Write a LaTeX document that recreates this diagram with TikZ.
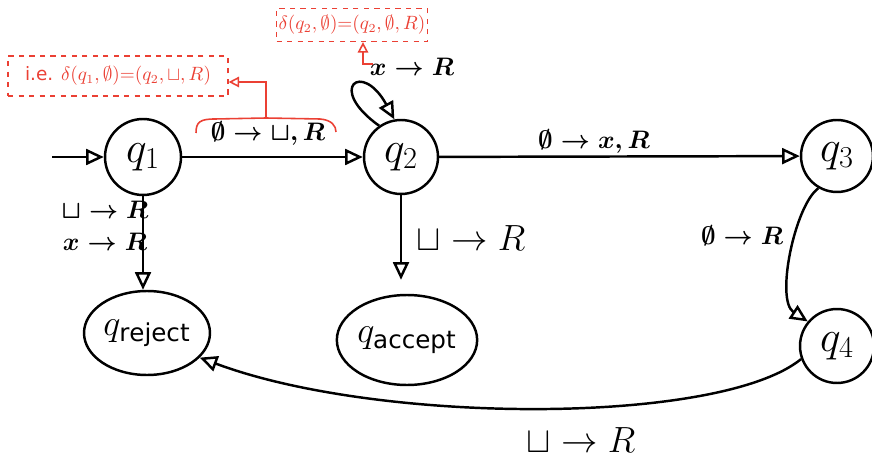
\documentclass[tikz,border=0pt]{standalone}
\usepackage{fontspec}
\setmainfont{DejaVu Sans}
\usetikzlibrary{arrows.meta,shapes.geometric}
\definecolor{annred}{RGB}{235,64,52}
\begin{document}
\begin{tikzpicture}[x=0.02cm,y=-0.02cm,
  state/.style={circle,draw,line width=1.4pt,inner sep=0pt,font=\fontsize{26}{26}\selectfont},
  bigstate/.style={ellipse,draw,line width=1.4pt,inner sep=0pt,font=\fontsize{20}{20}\selectfont},
  edge/.style={line width=1.4pt,-{Triangle[open,length=10pt,width=9pt,line width=1.4pt]}},
  lbl/.style={font=\fontsize{15}{15}\selectfont\boldmath,inner sep=0pt},
  biglbl/.style={font=\fontsize{22}{22}\selectfont,inner sep=0pt},
  redbox/.style={draw=annred,dashed,line width=0.7pt,text=annred,inner sep=0pt,font=\fontsize{10.5}{12}\selectfont},
  redline/.style={draw=annred,line width=0.9pt},
  redarrow/.style={redline,-{Triangle[open,length=6pt,width=6pt]}}]
\useasboundingbox (0,0) rectangle (872,459);

% states
\node[state,minimum size=1.52cm] (q1) at (143,157) {$q_1$};
\node[state,minimum size=1.48cm] (q2) at (401,157) {$q_2$};
\node[state,minimum size=1.44cm] (q3) at (837,156) {$q_3$};
\node[state,minimum size=1.48cm] (q4) at (837,346) {$q_4$};
\node[bigstate,minimum width=2.52cm,minimum height=1.68cm] (qrej) at (147,333) {$q_{\mathrm{reject}}$};
\node[bigstate,minimum width=2.32cm,minimum height=1.8cm] (qacc) at (407,340) {$q_{\mathrm{accept}}$};

% transitions
\coordinate (init) at (52,157);
\draw[edge] (init) -- (q1);
\draw[edge] (q1) -- (q2);
\draw[edge] (q2.125) .. controls (326,88) and (362,60) .. (q2.100);
\draw[edge] (q2) -- (q3);
\draw[edge,shorten >=0.28cm] (q2.south) -- (q2.south |- qacc.north);
\draw[edge] (q1.south) -- (q1.south |- qrej.north);
\draw[edge] (q3.240) .. controls (795,205) and (775,300) .. (q4.140);
\draw[edge] (q4.200) .. controls (720,425) and (380,425) .. (qrej.-25);

% labels
\node[lbl] (l12) at (268,133) {$\emptyset \to \sqcup, R$};
\node[lbl] (l22) at (412,67) {$x \to R$};
\node[lbl] (l23) at (594,141) {$\emptyset \to x, R$};
\node[biglbl] (l2a) at (471,238) {$\sqcup \to R$};
\node[lbl] (l1ra) at (105,210) {$\sqcup \to R$};
\node[lbl] (l1rb) at (105,242) {$x \to R$};
\node[lbl] (l34) at (742,236) {$\emptyset \to R$};
\node[biglbl] (l4r) at (581,440) {$\sqcup \to R$};

% annotations
\node[redbox,minimum width=4.4cm,minimum height=0.8cm] (box1) at (118,76)
  {i.e. $\delta(q_1,\emptyset){=}(q_2,\sqcup,R)$};
\node[redbox,minimum width=3.02cm,minimum height=0.66cm] (box2) at (352,25)
  {$\delta(q_2,\emptyset){=}(q_2,\emptyset,R)$};

\coordinate (bl) at (196,133);
\coordinate (br) at (336,132);
\coordinate (bm) at (266,118);
\draw[redline] (bl) .. controls (196,122) and (200,119) .. (215,119) -- (bm) -- (320,119)
  .. controls (332,120) and (336,126) .. (br);
\coordinate (bt) at (266,82);
\draw[redarrow] (bm) -- (bt) -- (box1.east |- bt);

\coordinate (xr) at (373,64);
\coordinate (xc) at (363,64);
\draw[redarrow] (xr) -- (xc) -- (xc |- box2.south);
\end{tikzpicture}
\end{document}
